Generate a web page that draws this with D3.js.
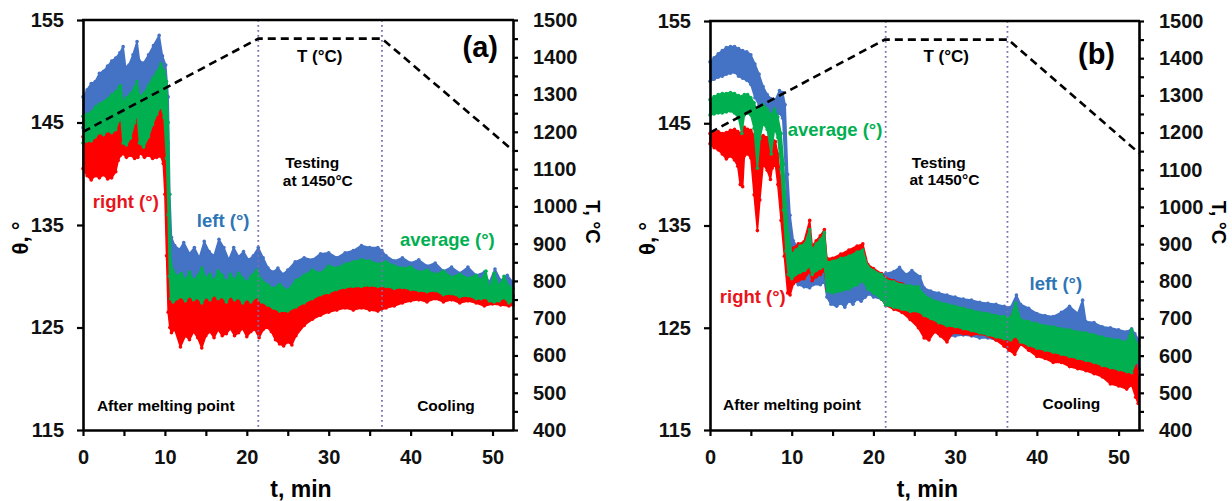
<!DOCTYPE html>
<html><head><meta charset="utf-8">
<script src="https://cdn.jsdelivr.net/npm/d3@7/dist/d3.min.js"></script>
<style>
body{margin:0;background:#fff}
text{font-family:"Liberation Sans",Arial,sans-serif;font-weight:bold}
</style>
</head><body>
<svg id="chart" width="1232" height="501"></svg>
<script>
// ---------- tick labels ----------
const timeTicks = [0,5,10,15,20,25,30,35,40,45,50];
const thetaTicks = [115,125,135,145,155];
const tempTicks = [400,450,500,550,600,650,700,750,800,850,900,950,1000,1050,1100,1150,1200,1250,1300,1350,1400,1450,1500];

// ---------- temperature programme (dashed line) ----------
const tempTime = [0, 21.4, 36.5, 52.5];
const tempA = [1200, 1450, 1450, 1150];
const tempB = [1200, 1450, 1450, 1145];
const phaseA = [21.4, 36.5];
const phaseB = [21.5, 36.4];

// ---------- panel (a): contact angle clouds [t, low, high] ----------
const leftA = [[0,144.5,147.5],[0.5,144.7,148.2],[1,145,148.8],[1.5,145.3,149.0],[2,145.6,149.8],[2.5,145.8,150.0],[3,146.1,150.5],[3.5,146.4,151.0],[4,146.7,151.3],[4.5,147.1,151.8],[4.9,147.3,152.4],[5.2,146.0,150.4],[5.6,146.3,150.6],[6.1,146.8,151.6],[6.6,147.6,152.9],[6.9,146.4,151.0],[7.4,146.6,150.8],[8.0,147.3,151.6],[8.6,148.0,152.5],[9.3,149.0,153.5],[9.7,148.6,151.5],[10.1,147.5,150.6],[10.4,143,147.5],[10.6,133,138],[10.8,129.5,133.8],[11.2,129.2,133.0],[11.8,129.0,132.6],[12.3,129.2,133.3],[13,129.4,132.2],[13.6,129.0,132.8],[14.2,129.3,131.8],[14.8,129.2,133.4],[15.4,129.0,132.4],[16,128.8,132.0],[16.6,129.4,133.6],[17.2,129.0,132.8],[17.8,128.8,131.6],[18.4,129.0,132.8],[19,129.1,131.9],[19.6,128.9,132.4],[20.2,128.8,131.6],[20.8,129.0,132.0],[21.4,129.2,132.8],[22,128.6,131.8],[22.6,128.2,130.8],[23.2,127.8,130.4],[23.8,128.0,130.8],[24.4,127.6,130.2],[25,127.8,130.6],[25.9,128.4,131.4],[27,129.0,131.8],[28,129.5,131.6],[29,129.6,132.2],[30,129.9,132.3],[31,129.8,131.8],[32,130.1,132.3],[33,130.3,132.5],[34,130.4,133.0],[35,130.3,132.8],[36,130.1,132.8],[36.5,130.1,132.5],[37,130.1,132.0],[38,129.8,131.5],[39,129.8,131.8],[40,129.6,131.3],[41,129.4,131.6],[42,129.4,131.0],[43,129.2,131.3],[44,129.1,130.5],[45,129.0,130.9],[46,128.8,130.3],[47,128.8,130.9],[48,128.6,130.1],[49,128.6,130.4],[49.6,128.0,129.4],[50.3,128.6,130.7],[51,128.0,129.6],[51.8,128.2,130.1],[52.5,128.0,129.4]];

const rightA = [[0,140.5,143.6],[0.5,139.8,143.8],[1,139.4,143.8],[1.5,139.8,144.2],[2,139.6,144.6],[2.5,139.9,144.4],[3,139.5,144.8],[3.5,139.6,144.6],[4,140.2,144.9],[4.3,141.3,145.8],[4.6,141.8,146.2],[4.8,142.0,145.0],[5.3,141.6,143.4],[5.8,141.8,144.2],[6.3,141.5,145.6],[6.7,141.6,146.4],[7.0,142.0,143.6],[7.5,141.6,143.4],[8.0,141.8,144.2],[8.5,141.5,145.4],[9.0,141.6,146.4],[9.5,141.7,147.2],[9.8,141.0,146.8],[10.0,138,143.5],[10.2,132,141.5],[10.4,126.5,134],[10.6,125.0,129],[10.8,124.5,128.4],[11.2,124.8,128.2],[11.9,123.1,128.6],[12.5,124.2,128.2],[13,123.8,128.8],[13.5,124.6,128.3],[14,124.0,128.5],[14.5,123.0,128.0],[15,124.2,128.6],[15.5,124.6,128.3],[16,124.0,128.8],[16.5,124.8,128.4],[17,124.2,128.6],[17.5,124.4,128.1],[18,124.9,128.7],[18.5,124.2,128.3],[19,124.5,128.5],[19.5,124.9,128.0],[20,124.1,128.4],[20.5,124.6,128.1],[21,124.8,128.6],[21.5,124.0,128.1],[22,124.8,128.0],[22.5,125.0,127.8],[23,124.6,127.5],[23.5,123.8,127.2],[24,123.4,127.1],[24.5,123.2,127.0],[25,123.6,127.1],[25.5,123.3,127.3],[26,124.2,127.5],[27,125.2,127.9],[28,125.8,128.3],[29,126.2,128.7],[30,126.5,128.9],[31,126.7,129.2],[32,126.9,129.4],[33,126.7,129.5],[34,126.9,129.5],[35,126.7,129.6],[36,126.6,129.5],[37,126.9,129.5],[38,127.1,129.3],[39,127.4,129.4],[40,127.6,129.2],[41,127.7,129.1],[42,127.5,129.0],[43,127.8,129.1],[44,127.5,128.7],[45,127.7,128.8],[46,127.4,128.5],[47,127.6,128.6],[48,127.4,128.3],[49,127.1,128.4],[50,127.3,128.0],[51,127.2,128.4],[52,127.1,127.9],[52.5,127.2,128.1]];

const avgA = [[0,143.0,145.6],[0.5,143.2,145.8],[1,143.2,146.0],[1.5,143.6,146.5],[2,144.0,146.8],[2.5,143.8,147.0],[3,144.2,147.3],[3.5,144.0,147.7],[4,144.3,148.0],[4.4,145.2,148.4],[4.6,145.8,148.6],[4.9,143.0,147.0],[5.3,142.8,147.4],[5.8,143.5,147.8],[6.3,145.0,148.4],[6.6,146.0,149.0],[6.9,143.0,147.5],[7.4,142.6,147.8],[8.0,143.6,148.6],[8.5,144.8,149.3],[9.0,145.8,149.9],[9.5,146.6,150.7],[9.9,145.5,150.0],[10.2,141.5,149.0],[10.4,136,145],[10.55,130,138],[10.7,127.8,131.5],[11,127.5,130.5],[11.5,127.8,130.0],[12,128.0,130.3],[12.5,127.6,129.6],[13,128.1,130.4],[13.5,127.7,129.6],[14,127.9,130.0],[14.5,127.4,130.8],[15,128.0,129.8],[15.5,127.7,130.2],[16,128.2,129.5],[16.5,127.8,130.5],[17,128.0,130.1],[17.5,127.5,129.4],[18,128.1,130.2],[18.5,127.7,129.6],[19,127.9,130.3],[19.5,127.4,129.8],[20,127.8,129.4],[20.5,127.5,130.0],[21.2,128.0,130.6],[21.8,127.5,129.6],[22.5,127.2,129.2],[23.2,126.9,128.8],[24,126.6,129.2],[25,126.6,128.6],[26,127.0,129.6],[27,127.4,130.1],[28,127.8,130.6],[29,128.2,130.3],[30,128.4,131.0],[31,128.7,130.8],[32,128.9,131.2],[33,129.0,131.4],[34,129.0,131.6],[35,129.1,131.5],[36,129.0,131.2],[37,129.0,131.4],[38,128.8,131.0],[39,128.9,130.8],[40,128.7,130.9],[41,128.6,130.4],[42,128.5,130.6],[43,128.6,130.2],[44,128.2,130.5],[45,128.3,129.9],[46,128.0,130.2],[47,128.1,129.8],[48,127.8,130.1],[48.6,127.8,129.6],[49.2,127.9,130.5],[49.6,127.6,128.7],[50.2,127.5,130.3],[50.8,127.6,129.0],[51.4,127.9,130.0],[52,127.4,129.0],[52.5,127.6,128.8]];

// ---------- panel (b): contact angle clouds [t, low, high] ----------
const leftB = [[0,149.1,151.0],[0.5,149.3,151.4],[1,149.5,151.8],[1.5,149.6,152.1],[2,149.8,152.4],[2.5,149.9,152.5],[3,150.0,152.5],[3.5,149.6,152.3],[4,149.4,152.1],[4.5,149.2,152.0],[5,148.8,151.7],[5.5,147.5,150.8],[6,146.8,149.8],[6.5,146.0,148.6],[7,145.6,147.8],[7.5,145.3,147.4],[8,145.5,147.3],[8.5,146.0,148.2],[8.9,145.5,148.0],[9.2,141,146.8],[9.5,135,140],[9.8,131,136],[10.2,129.8,133.5],[10.8,129.2,132.8],[11.5,129.0,132.8],[12.2,128.9,133.8],[12.6,129.2,132.8],[13.5,129.2,133.2],[14.0,129.5,134.3],[14.3,128.0,131.5],[14.8,127.3,131.0],[15.5,127.1,131.2],[16,127.4,131.3],[16.5,127.0,131.4],[17,127.6,131.6],[17.5,127.3,131.8],[18,127.8,132.0],[18.5,127.6,132.0],[19,128.0,131.8],[19.5,128.3,130.6],[20,128.0,130.3],[21,127.8,130.2],[21.5,127.6,130.3],[22.5,127.3,130.5],[23.2,127.2,130.9],[24,127.0,130.2],[24.7,126.7,130.6],[25.7,126.0,130.0],[26.2,125.8,128.9],[27,125.4,128.6],[28,124.4,128.4],[29,124.2,128.2],[30,124.2,128.0],[31,124.3,127.8],[32,124.2,127.7],[33,124.0,127.5],[34,124.0,127.4],[35,123.8,127.3],[36,123.7,127.1],[36.8,123.8,127.0],[37.5,123.6,128.2],[38,123.5,127.3],[39,123.2,126.9],[40,123.0,126.4],[41,122.8,126.2],[42,122.6,126.1],[43,122.4,126.5],[44,122.3,127.1],[45,122.0,126.4],[45.6,121.8,127.7],[46,121.7,125.6],[47,121.5,125.5],[48,121.2,125.1],[49,121.0,125.0],[50,120.7,124.8],[51,120.5,124.6],[51.6,120.3,124.9],[52,120.8,124.4],[52.5,121.0,123.8]];

const rightB = [[0,143.0,144.0],[0.5,142.6,144.1],[1,142.4,144.2],[1.5,142.0,144.0],[2,141.5,144.1],[2.5,141.8,144.3],[3,141.4,144.4],[3.4,140.8,144.2],[3.7,139.0,144.0],[4.0,138.8,144.5],[4.2,141.8,144.6],[4.6,142.0,144.4],[5.0,141.6,144.3],[5.4,138.0,143.8],[5.8,134.5,143.0],[6.1,137.5,143.5],[6.5,141.0,143.8],[7.0,140.4,143.6],[7.4,139.5,143.4],[7.6,140.6,143.6],[8.0,141.0,143.2],[8.3,139.0,142.0],[8.7,135.5,139.0],[9.1,132.0,136.0],[9.5,128.4,131.5],[9.8,128.2,130.5],[10.2,129.3,132.8],[10.8,129.6,133.2],[11.5,129.8,133.4],[12.2,130.5,135.5],[12.5,129.6,133.0],[13.0,130.0,133.5],[13.5,130.2,134.0],[14.0,130.6,134.6],[14.3,128.8,131.8],[15,128.8,131.8],[16,129.0,132.2],[17,129.2,132.6],[18,129.4,133.0],[18.7,129.6,133.2],[19.3,129.2,131.2],[20,128.6,130.8],[21,127.8,130.3],[21.5,127.2,129.9],[22.5,126.8,129.6],[23.5,126.5,129.3],[24.5,125.8,128.9],[25.5,125.0,128.6],[26.2,124.0,128.0],[26.8,123.8,127.5],[27.5,124.6,127.5],[28.2,124.2,127.2],[29,123.6,127.0],[29.7,124.5,126.9],[31,124.4,126.7],[32,124.3,126.6],[33,124.4,126.4],[34,124.2,126.2],[35,123.8,126.0],[36,123.2,125.8],[36.6,122.8,125.8],[37.3,122.4,126.8],[38,123.4,125.5],[39,122.8,125.3],[40,122.2,125.0],[41,122.0,124.8],[42,121.6,124.5],[43,121.6,124.3],[44,121.2,124.1],[45,121.0,123.8],[46,120.8,123.6],[47,120.5,123.4],[48,120.2,123.1],[49,119.5,122.9],[50,119.3,122.7],[51,119.0,122.4],[51.6,119.4,122.6],[52.1,118.2,122.0],[52.4,117.6,120.0]];

const avgB = [[0,145.8,147.3],[0.5,145.9,147.6],[1,146.0,147.8],[1.5,146.0,147.9],[2,146.1,147.9],[2.5,146.2,148.0],[3,146.0,147.9],[3.5,145.5,147.7],[3.9,144.0,147.6],[4.2,145.8,147.8],[4.6,146.0,147.8],[5.0,145.8,147.5],[5.4,144.5,147.0],[5.8,140.6,146.2],[6.1,143.5,146.5],[6.5,145.0,146.8],[7.0,144.4,146.4],[7.5,142.0,145.8],[7.9,144.5,146.4],[8.3,143.6,145.6],[8.7,140.5,144.0],[9.0,136.5,141.0],[9.3,132.5,137.0],[9.6,130.2,134.0],[10.0,129.8,132.2],[10.5,130.2,132.6],[11.0,130.4,133.0],[11.6,130.6,133.2],[12.2,131.0,134.6],[12.5,130.2,132.6],[13.0,130.6,133.2],[13.5,130.8,133.6],[14.0,131.0,134.3],[14.3,128.6,131.4],[15,128.4,131.5],[16,128.6,131.8],[17,128.8,132.0],[18,129.2,132.4],[18.7,129.6,132.6],[19.3,128.8,131.0],[20,128.4,130.6],[21,127.8,130.2],[21.5,127.2,129.7],[22.5,127.0,129.5],[23.5,126.8,129.2],[24.5,126.6,129.1],[25.5,126.6,129.0],[26.2,126.2,128.2],[27,125.9,127.8],[28,125.5,127.5],[29,125.2,127.3],[30,125.1,127.1],[31,124.9,126.9],[32,124.7,126.7],[33,124.5,126.5],[34,124.3,126.4],[35,124.1,126.2],[36,123.9,126.1],[36.8,123.8,126.0],[37.4,124.2,127.4],[38,123.6,125.8],[39,123.3,125.6],[40,123.0,125.4],[41,122.8,125.2],[42,122.6,125.1],[43,122.4,124.9],[44,122.2,124.8],[45,122.0,124.6],[46,121.8,124.5],[47,121.6,124.3],[48,121.3,124.1],[49,121.1,123.9],[50,120.9,123.8],[51,120.7,123.6],[51.6,120.6,124.8],[52.1,121.6,123.6],[52.5,122.0,123.2]];

// ---------- annotations (text, position in data units) ----------
const notesA = [
  {text:"(a)", t:48.5, v:151.4, cls:"tag"},
  {text:"T (°C)", t:28.9, v:150.9, cls:"mid"},
  {text:"Testing", t:24.7, v:140.56, cls:"small"},
  {text:"at 1450°C", t:24.4, v:138.8, cls:"small"},
  {text:"After melting point", t:1.7, v:116.85, cls:"small"},
  {text:"Cooling", t:40.8, v:116.85, cls:"small"},
  {text:"right (°)", t:1.2, v:136.66, cls:"red"},
  {text:"left (°)", t:13.9, v:134.8, cls:"blue"},
  {text:"average (°)", t:38.7, v:132.95, cls:"green"}
];
const notesB = [
  {text:"(b)", t:47.3, v:150.8, cls:"tag"},
  {text:"T (°C)", t:28.9, v:151.0, cls:"mid"},
  {text:"Testing", t:24.7, v:140.6, cls:"small"},
  {text:"at 1450°C", t:24.4, v:139.0, cls:"small"},
  {text:"After melting point", t:1.6, v:116.96, cls:"small"},
  {text:"Cooling", t:40.7, v:117.05, cls:"small"},
  {text:"right (°)", t:1.2, v:127.4, cls:"red"},
  {text:"left (°)", t:39.1, v:128.7, cls:"blue"},
  {text:"average (°)", t:9.5, v:143.75, cls:"green"}
];

// ---------- styling ----------
const colors = {left:"#4472c4", right:"#ff0000", avg:"#00b050"};
const noteStyle = {
  tag:{size:29, fill:"#000", anchor:"middle"},
  mid:{size:17, fill:"#000", anchor:"middle"},
  small:{size:15.5, fill:"#000", anchor:"start"},
  red:{size:18.5, fill:"#e8141b", anchor:"start"},
  blue:{size:18.5, fill:"#2e75b6", anchor:"start"},
  green:{size:18.5, fill:"#00b050", anchor:"start"}
};

const panels = [
  {left:83, right:513, top:20, bottom:430, series:{left:leftA,right:rightA,avg:avgA}, temp:tempA, phases:phaseA, notes:notesA},
  {left:710, right:1139, top:21, bottom:430, series:{left:leftB,right:rightB,avg:avgB}, temp:tempB, phases:phaseB, notes:notesB}
];

const svg = d3.select("#chart");
svg.append("rect").attr("width",1232).attr("height",501).attr("fill","#fff");

panels.forEach(p => {
  const x = d3.scaleLinear().domain([0,52.5]).range([p.left,p.right]);
  const y = d3.scaleLinear().domain([115,155]).range([p.bottom,p.top]);
  const yT = d3.scaleLinear().domain([400,1500]).range([p.bottom,p.top]);
  const g = svg.append("g");

  // data clouds: left (blue), right (red), average (green) on top
  const area = d3.area().x(d=>x(d[0])).y0(d=>y(d[1])).y1(d=>y(d[2]));
  ["left","right","avg"].forEach(k => {
    const s = p.series[k];
    g.append("path").datum(s).attr("d",area)
      .attr("fill",colors[k]).attr("stroke",colors[k]).attr("stroke-width",1.6)
      .attr("stroke-linejoin","round");
    // scatter-like markers along the cloud edges
    const edge = s.flatMap(d=>[[d[0],d[1]],[d[0],d[2]]]);
    g.append("g").selectAll("circle").data(edge).join("circle")
      .attr("cx",d=>x(d[0])).attr("cy",d=>y(d[1])).attr("r",1.8).attr("fill",colors[k]);
  });

  // phase boundaries (dotted)
  g.selectAll(null).data(p.phases).join("line")
    .attr("x1",d=>x(d)).attr("x2",d=>x(d)).attr("y1",y(155)).attr("y2",y(115))
    .attr("stroke","#7b6fb3").attr("stroke-width",1.8).attr("stroke-dasharray","1.8,3.2");

  // temperature dashed line
  const line = d3.line().x(d=>x(d[0])).y(d=>yT(d[1]));
  g.append("path").datum(tempTime.map((t,i)=>[t,p.temp[i]])).attr("d",line)
    .attr("fill","none").attr("stroke","#000").attr("stroke-width",2.6).attr("stroke-dasharray","8,5");

  // axes
  const ax = g.append("g").attr("transform",`translate(0,${p.bottom})`)
    .call(d3.axisBottom(x).tickValues(timeTicks).tickFormat(d=>d%10===0?d:"").tickSize(6).tickSizeOuter(0).tickPadding(14));
  const ayl = g.append("g").attr("transform",`translate(${p.left},0)`)
    .call(d3.axisLeft(y).tickValues(thetaTicks).tickSize(6).tickSizeOuter(0).tickPadding(13));
  const ayr = g.append("g").attr("transform",`translate(${p.right},0)`)
    .call(d3.axisRight(yT).tickValues(tempTicks).tickFormat(d=>d%100===0?d:"").tickSize(5).tickSizeOuter(0).tickPadding(15));
  [ax,ayl,ayr].forEach(a=>{
    a.select(".domain").attr("stroke","#000").attr("stroke-width",2.6);
    a.selectAll(".tick line").attr("stroke","#000").attr("stroke-width",2.2);
    a.selectAll(".tick text").attr("font-size",20).attr("font-weight","bold")
      .attr("font-family","Liberation Sans, Arial, sans-serif").attr("fill","#111");
  });
  // top frame
  g.append("line").attr("x1",x(0)-1).attr("x2",x(52.5)+1).attr("y1",y(155)).attr("y2",y(155))
    .attr("stroke","#000").attr("stroke-width",2.6);

  // axis titles
  const midY = (p.top+p.bottom)/2;
  g.append("text").text("θ, °").attr("font-size",22)
    .attr("transform",`translate(${p.left-55},${midY+13}) rotate(-90)`).attr("text-anchor","middle");
  g.append("text").text("T, °C").attr("font-size",20)
    .attr("transform",`translate(${p.right+73},${midY-3}) rotate(90)`).attr("text-anchor","middle");
  g.append("text").text("t, min").attr("font-size",23).attr("text-anchor","middle")
    .attr("x",(p.left+p.right)/2+3).attr("y",497);

  // annotations
  g.selectAll(null).data(p.notes).join("text")
    .text(d=>d.text).attr("x",d=>x(d.t)).attr("y",d=>y(d.v))
    .attr("font-size",d=>noteStyle[d.cls].size).attr("fill",d=>noteStyle[d.cls].fill)
    .attr("text-anchor",d=>noteStyle[d.cls].anchor);
});
</script>
</body></html>
